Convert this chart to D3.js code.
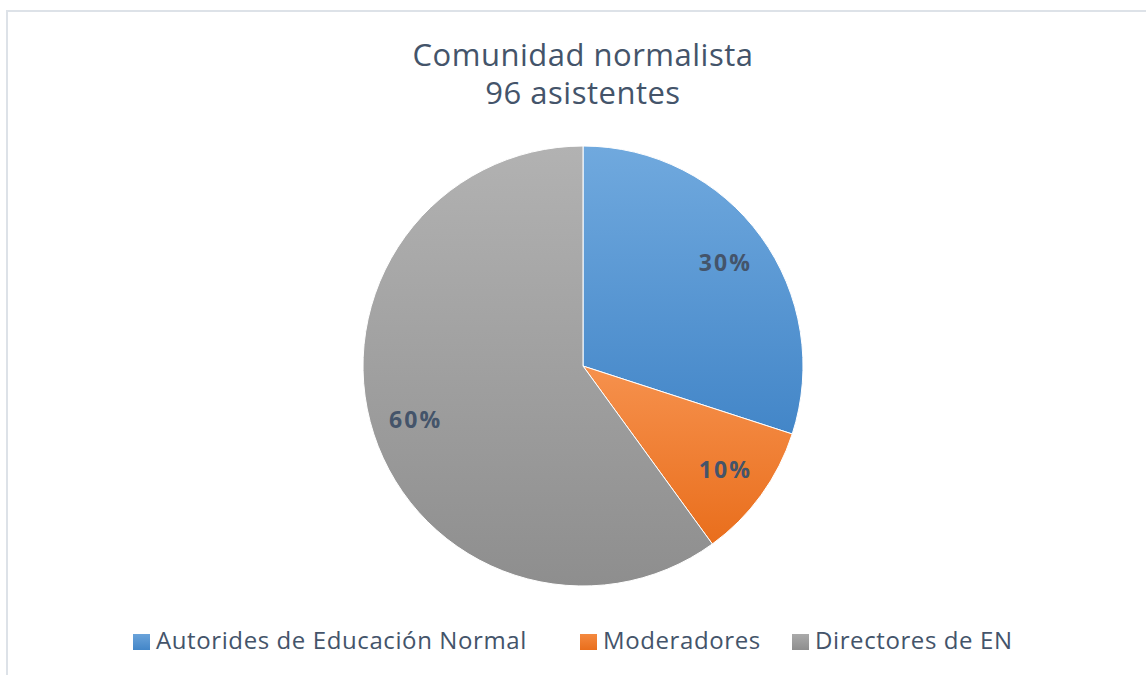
<!DOCTYPE html>
<html><head><meta charset="utf-8">
<script src="https://cdnjs.cloudflare.com/ajax/libs/d3/7.8.5/d3.min.js"></script>
<style>html,body{margin:0;padding:0;background:#fff;}svg{display:block;}</style>
</head><body>
<script>
const categories = ["Autorides de Educación Normal", "Moderadores", "Directores de EN"];
const values = [30, 10, 60];
const labels = ["30%", "10%", "60%"];
const titleLines = ["Comunidad normalista", "96 asistentes"];
const colorsTop = ["#70a9de", "#f6914d", "#b2b2b2"];
const colorsBottom = ["#4386c8", "#e96e1c", "#8e8e8e"];
const legendSwatchTop = ["#6aa3da", "#f4893f", "#aaaaaa"];

const W = 1146, H = 675;
const svg = d3.select("body").append("svg").attr("width", W).attr("height", H);
const font = "'Open Sans', sans-serif";
const textColor = "#44546a";

// chart border
svg.append("rect").attr("x", 7).attr("y", 11).attr("width", W + 10).attr("height", H + 10)
  .attr("fill", "none").attr("stroke", "#dde2e8").attr("stroke-width", 2);

const defs = svg.append("defs");
categories.forEach((c, i) => {
  const g = defs.append("linearGradient").attr("id", "g" + i)
    .attr("x1", 0).attr("y1", 0).attr("x2", 0).attr("y2", 1);
  g.append("stop").attr("offset", "0%").attr("stop-color", colorsTop[i]);
  g.append("stop").attr("offset", "100%").attr("stop-color", colorsBottom[i]);
});

// title
const title = svg.append("text").attr("text-anchor", "middle").attr("fill", textColor)
  .style("font-family", font).style("font-size", "31px").style("letter-spacing", "0.5px");
title.selectAll("tspan").data(titleLines).enter().append("tspan")
  .attr("x", 583).attr("y", (d, i) => 66 + i * 38).text(d => d);

// pie
const cx = 583, cy = 366, R = 220;
const pie = d3.pie().sort(null).value(d => d)(values);
const arc = d3.arc().innerRadius(0).outerRadius(R);
const labelArc = d3.arc().innerRadius(R * 0.8).outerRadius(R * 0.8);
const g = svg.append("g").attr("transform", `translate(${cx},${cy})`);
g.selectAll("path").data(pie).enter().append("path")
  .attr("d", arc).attr("fill", (d, i) => `url(#g${i})`)
  .attr("stroke", "#fff").attr("stroke-width", 1);
g.selectAll("text").data(pie).enter().append("text")
  .attr("transform", d => `translate(${labelArc.centroid(d)})`)
  .attr("text-anchor", "middle").attr("dy", "0.35em")
  .attr("fill", textColor).style("font-family", font).style("font-weight", "bold")
  .style("font-size", "23px").style("letter-spacing", "2px").text((d, i) => labels[i]);

// legend
const legendX = [133, 580, 792];
const lg = svg.append("g");
categories.forEach((c, i) => {
  const lgd = defs.append("linearGradient").attr("id", "lg" + i)
    .attr("x1", 0).attr("y1", 0).attr("x2", 0).attr("y2", 1);
  lgd.append("stop").attr("offset", "0%").attr("stop-color", legendSwatchTop[i]);
  lgd.append("stop").attr("offset", "100%").attr("stop-color", colorsBottom[i]);
  lg.append("rect").attr("x", legendX[i]).attr("y", 634).attr("width", 17).attr("height", 16)
    .attr("fill", `url(#lg${i})`);
  lg.append("text").attr("x", legendX[i] + 23).attr("y", 649).attr("fill", textColor)
    .style("font-family", font).style("font-size", "24px").style("letter-spacing", "0.6px").text(c);
});
</script>
</body></html>
